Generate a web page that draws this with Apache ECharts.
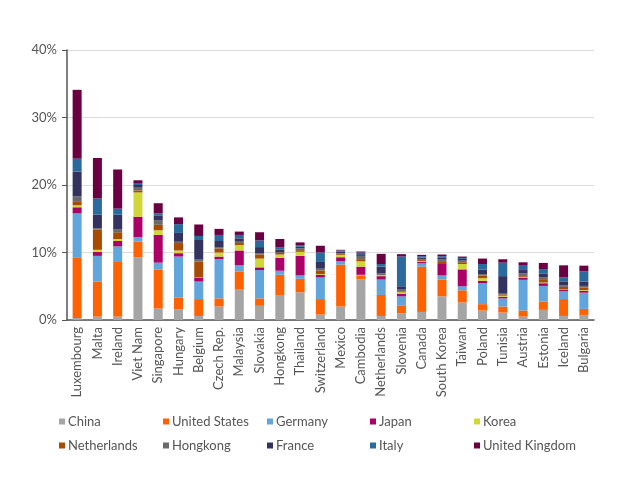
<!DOCTYPE html>
<html><head><meta charset="utf-8">
<script src="https://cdn.jsdelivr.net/npm/echarts@6/dist/echarts.min.js"></script>
<style>html,body{margin:0;padding:0;background:#fff}#c{width:630px;height:486px}</style>
</head><body><div id="c"></div>
<script>
const categories = ["Luxembourg","Malta","Ireland","Viet Nam","Singapore","Hungary","Belgium","Czech Rep.","Malaysia","Slovakia","Hongkong","Thailand","Switzerland","Mexico","Cambodia","Netherlands","Slovenia","Canada","South Korea","Taiwan","Poland","Tunisia","Austria","Estonia","Iceland","Bulgaria"];
const china       = [0.3,0.5,0.5,9.3,1.7,1.6,0.6,2.0,4.5,2.1,3.7,4.1,0.8,2.0,6.0,0.6,1.0,1.2,3.5,2.6,1.4,1.1,0.5,1.5,0.6,0.75];
const unitedStates= [8.9,5.2,8.1,2.3,5.8,1.7,2.5,1.2,2.7,1.1,3.0,2.0,2.3,6.2,0.6,3.1,1.1,6.7,2.5,1.8,0.95,0.9,0.9,1.25,2.5,0.9];
const germany     = [6.6,3.8,2.3,0.7,1.0,6.1,2.6,5.8,0.9,4.2,0.6,0.5,3.2,0.5,0.1,2.3,1.4,0.5,0.6,0.6,3.1,1.2,4.55,2.3,1.15,2.4];
const japan       = [0.9,0.6,0.8,3.0,4.1,0.5,0.6,0.4,2.2,0.4,1.9,2.9,0.4,0.6,1.2,0.5,0.4,0.25,1.7,2.5,0.35,0.25,0.35,0.4,0.25,0.3];
const korea       = [0.3,0.3,0.3,3.6,0.7,0.4,0.05,0.6,0.8,1.3,0.5,0.6,0.1,0.35,0.8,0.15,0.2,0.1,0,0.8,0.4,0.15,0.1,0.1,0.05,0.1];
const netherlands = [0.6,3.0,1.0,0.3,0.8,1.1,2.3,0.6,0.3,0.6,0.3,0.25,0.5,0.15,0.2,0,0.15,0.15,0.3,0.25,0.4,0.2,0.25,0.5,0.35,0.35];
const hongkong    = [0.7,0.2,0.4,0.4,0.7,0.2,0.3,0.2,0.3,0.2,0,0.25,0.3,0.1,0.6,0.25,0.25,0.15,0.35,0.25,0.2,0.1,0.25,0.3,0.25,0.25];
const france      = [3.7,2.0,2.2,0.4,0.7,1.3,2.9,0.9,0.4,0.9,0.4,0.25,1.0,0.25,0.25,1.0,0.5,0.2,0.25,0.25,0.65,2.6,0.5,0.5,0.5,0.65];
const italy       = [1.9,2.4,0.9,0.3,0.3,1.3,0.6,0.9,0.5,1.0,0.4,0.25,1.4,0.15,0.25,0.4,4.4,0.2,0.25,0.15,0.85,2.0,0.75,0.7,0.65,1.5];
const unitedKingdom=[10.2,6.0,5.8,0.4,1.5,1.0,1.7,0.9,0.5,1.2,1.2,0.4,1.0,0.1,0.15,1.5,0.35,0.2,0.25,0.2,0.8,0.5,0.4,0.9,1.8,0.85];
const yTicks = [0,10,20,30,40];

const seriesDefs = [
  ["China", china, "#a5a5a5"],
  ["United States", unitedStates, "#ff6200"],
  ["Germany", germany, "#60a5db"],
  ["Japan", japan, "#ab0066"],
  ["Korea", korea, "#d0d839"],
  ["Netherlands", netherlands, "#a64b00"],
  ["Hongkong", hongkong, "#6a6a6a"],
  ["France", france, "#34325f"],
  ["Italy", italy, "#2a6a9d"],
  ["United Kingdom", unitedKingdom, "#6a0041"]
];
const legendPos = [[54,410],[158,410],[262,410],[365,410],[469,410],[54,434],[158,434],[262,434],[365,434],[469,434]];
const FONT = "Lato";
const chart = echarts.init(document.getElementById('c'), null, {renderer:'canvas'});
chart.setOption({
  animation:false,
  backgroundColor:'#fff',
  textStyle:{fontFamily:FONT},
  grid:{left:67, right:36, top:50, bottom:166, containLabel:false},
  legend: seriesDefs.map((s,i)=>({
    data:[s[0]], left:legendPos[i][0], top:legendPos[i][1], icon:'rect', itemWidth:6, itemHeight:6, itemGap:4,
    textStyle:{fontFamily:FONT, fontSize:13, color:'#555', padding:[0,0,0,-2]}
  })),
  xAxis:{type:'category', data:categories,
    axisLine:{lineStyle:{color:'#555', width:1.5}}, axisTick:{show:false},
    axisLabel:{rotate:90, fontSize:13, color:'#555', fontFamily:FONT, margin:7, interval:0}},
  yAxis:{type:'value', min:yTicks[0], max:yTicks[yTicks.length-1], interval:10,
    axisLine:{show:true, lineStyle:{color:'#555', width:1.5}},
    axisTick:{show:true, inside:false, length:5, lineStyle:{color:'#555'}},
    axisLabel:{formatter:'{value}%', fontSize:13, color:'#555', fontFamily:FONT, margin:10},
    splitLine:{lineStyle:{color:'#dcdcdc'}}},
  series: seriesDefs.map(s=>({name:s[0], type:'bar', stack:'t', data:s[1], barWidth:9, itemStyle:{color:s[2]}}))
});
</script></body></html>
